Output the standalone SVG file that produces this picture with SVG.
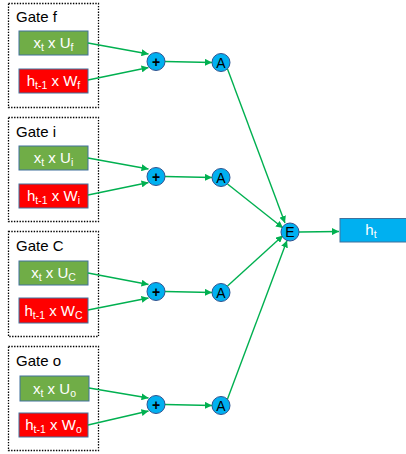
<svg xmlns="http://www.w3.org/2000/svg" width="406" height="454" viewBox="0 0 406 454">
<defs>
<style>
.gate{fill:none;stroke:#000;stroke-width:1.3;stroke-dasharray:1.4 1.4}
.lbl{font-family:"Liberation Sans",Arial,sans-serif;font-size:15px;fill:#000}
.bx{font-family:"Liberation Sans",Arial,sans-serif;font-size:15px;fill:#fff;text-anchor:middle}
.sub{font-size:10.5px}
.gb{fill:#70AD47;stroke:#41719C;stroke-width:1}
.rb{fill:#FF0000;stroke:#41719C;stroke-width:1}
.cn{fill:#00B0F0;stroke:#2F528F;stroke-width:1}
.ct{font-family:"Liberation Sans",Arial,sans-serif;font-size:14px;fill:#000;text-anchor:middle}
.pt{font-family:"Liberation Sans",Arial,sans-serif;font-size:14px;font-weight:bold;fill:#000;text-anchor:middle}
.ln{stroke:#00B050;stroke-width:1.4;fill:none;marker-end:url(#ar)}
</style>
<marker id="ar" viewBox="0 0 8 8" refX="8" refY="4" markerWidth="7" markerHeight="7" markerUnits="userSpaceOnUse" orient="auto">
<path d="M0,0 L8,4 L0,8 z" fill="#00B050"/>
</marker>
</defs>
<rect width="406" height="454" fill="#fff"/>

<g id="gate_f">
<rect class="gate" x="8.5" y="3.5" width="90" height="104"/>
<text class="lbl" x="16" y="22">Gate f</text>
<g id="xUf"><rect class="gb" x="19" y="31" width="69" height="24"/>
<text class="bx" x="53.5" y="48">x<tspan class="sub" dy="3">t</tspan><tspan dy="-3"> x U</tspan><tspan class="sub" dy="3">f</tspan></text></g>
<g id="hWf"><rect class="rb" x="19" y="69" width="69" height="24"/>
<text class="bx" x="53.5" y="86">h<tspan class="sub" dy="3">t-1</tspan><tspan dy="-3"> x W</tspan><tspan class="sub" dy="3">f</tspan></text></g>
</g>

<g id="gate_i">
<rect class="gate" x="8.5" y="117.5" width="90" height="104"/>
<text class="lbl" x="16" y="137">Gate i</text>
<g id="xUi"><rect class="gb" x="19" y="146" width="69" height="24"/>
<text class="bx" x="53.5" y="163">x<tspan class="sub" dy="3">t</tspan><tspan dy="-3"> x U</tspan><tspan class="sub" dy="3">i</tspan></text></g>
<g id="hWi"><rect class="rb" x="19" y="184" width="69" height="24"/>
<text class="bx" x="53.5" y="201">h<tspan class="sub" dy="3">t-1</tspan><tspan dy="-3"> x W</tspan><tspan class="sub" dy="3">i</tspan></text></g>
</g>

<g id="gate_C">
<rect class="gate" x="8.5" y="231.5" width="90" height="105"/>
<text class="lbl" x="16" y="251">Gate C</text>
<g id="xUC"><rect class="gb" x="19" y="261" width="69" height="24"/>
<text class="bx" x="53.5" y="278">x<tspan class="sub" dy="3">t</tspan><tspan dy="-3"> x U</tspan><tspan class="sub" dy="3">C</tspan></text></g>
<g id="hWC"><rect class="rb" x="19" y="298" width="69" height="25"/>
<text class="bx" x="53.5" y="315.5">h<tspan class="sub" dy="3">t-1</tspan><tspan dy="-3"> x W</tspan><tspan class="sub" dy="3">C</tspan></text></g>
</g>

<g id="gate_o">
<rect class="gate" x="8.5" y="346.5" width="90" height="104"/>
<text class="lbl" x="16" y="366">Gate o</text>
<g id="xUo"><rect class="gb" x="20" y="376" width="69" height="25"/>
<text class="bx" x="54.5" y="393.5">x<tspan class="sub" dy="3">t</tspan><tspan dy="-3"> x U</tspan><tspan class="sub" dy="3">o</tspan></text></g>
<g id="hWo"><rect class="rb" x="19" y="413" width="69" height="24"/>
<text class="bx" x="53.5" y="430">h<tspan class="sub" dy="3">t-1</tspan><tspan dy="-3"> x W</tspan><tspan class="sub" dy="3">o</tspan></text></g>
</g>

<g id="connectors">
<line class="ln" x1="88" y1="43" x2="148.5" y2="54"/>
<line class="ln" x1="88" y1="80" x2="148.5" y2="67.5"/>
<line class="ln" x1="165" y1="61.5" x2="212" y2="62.5"/>
<line class="ln" x1="88" y1="158" x2="148.5" y2="169"/>
<line class="ln" x1="88" y1="195" x2="148.5" y2="182.5"/>
<line class="ln" x1="165" y1="176.5" x2="212" y2="177.5"/>
<line class="ln" x1="88" y1="273" x2="148.5" y2="284.5"/>
<line class="ln" x1="88" y1="310" x2="148.5" y2="298"/>
<line class="ln" x1="165" y1="291.5" x2="212" y2="292.5"/>
<line class="ln" x1="89" y1="388" x2="148.5" y2="398"/>
<line class="ln" x1="88" y1="425" x2="148.5" y2="411"/>
<line class="ln" x1="165" y1="404.5" x2="212" y2="405.5"/>
<line class="ln" x1="227.5" y1="69" x2="285" y2="223"/>
<line class="ln" x1="227.5" y1="184" x2="283" y2="228"/>
<line class="ln" x1="227.5" y1="286" x2="283" y2="235.5"/>
<line class="ln" x1="227.5" y1="399" x2="287" y2="240.5"/>
<line class="ln" x1="299" y1="232" x2="339" y2="231.5"/>
</g>

<g id="plus_f"><circle class="cn" cx="156" cy="61.5" r="9"/><text class="pt" x="156" y="66.5">+</text></g>
<g id="plus_i"><circle class="cn" cx="156" cy="176.5" r="9"/><text class="pt" x="156" y="181.5">+</text></g>
<g id="plus_C"><circle class="cn" cx="156" cy="291.5" r="9"/><text class="pt" x="156" y="296.5">+</text></g>
<g id="plus_o"><circle class="cn" cx="156" cy="404.5" r="9"/><text class="pt" x="156" y="409.5">+</text></g>
<g id="A_f"><circle class="cn" cx="221" cy="62.5" r="9"/><text class="ct" x="221" y="67.5">A</text></g>
<g id="A_i"><circle class="cn" cx="221" cy="177.5" r="9"/><text class="ct" x="221" y="182.5">A</text></g>
<g id="A_C"><circle class="cn" cx="221" cy="292.5" r="9"/><text class="ct" x="221" y="297.5">A</text></g>
<g id="A_o"><circle class="cn" cx="221" cy="405.5" r="9"/><text class="ct" x="221" y="410.5">A</text></g>
<g id="E"><circle class="cn" cx="290" cy="232" r="9"/><text class="ct" x="290" y="237">E</text></g>
<g id="ht"><rect x="340" y="218.5" width="70" height="23.5" fill="#00B0F0" stroke="#41719C" stroke-width="1"/>
<text class="bx" x="371" y="235">h<tspan class="sub" dy="3">t</tspan></text></g>
</svg>
